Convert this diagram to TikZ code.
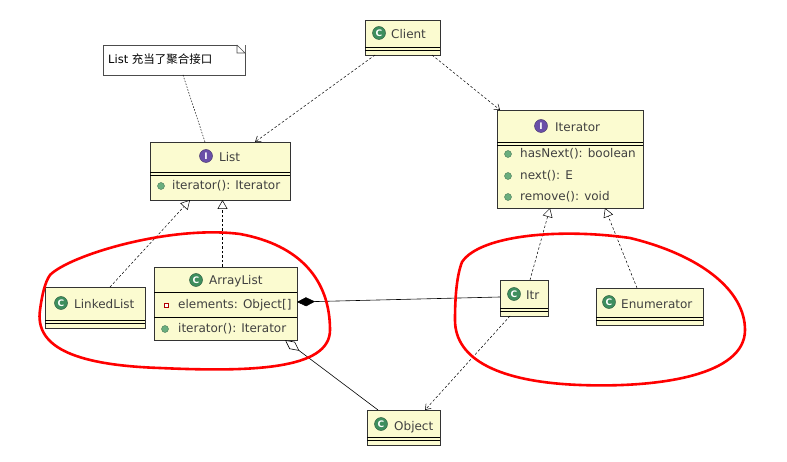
\documentclass[tikz,border=0pt]{standalone}
\usepackage{fontspec}
\setmainfont{DejaVu Sans}
\newfontfamily\cjk{Noto Sans CJK SC}
\usetikzlibrary{arrows.meta,calc}
\definecolor{boxfill}{HTML}{FBFBD0}
\definecolor{icg}{HTML}{3E8E5E}
\definecolor{ici}{HTML}{6A4FA8}
\definecolor{dotg}{HTML}{6AAE7E}
\tikzset{
 cls/.style={draw=black!80,fill=boxfill,line width=0.8pt,anchor=north west,inner sep=0},
 lbl/.style={font=\fontsize{12}{14}\selectfont,text=black!75,anchor=west,inner sep=0},
 icon/.style={circle,fill=#1,draw=#1!60!black,minimum size=13pt,inner sep=0,font=\fontsize{9}{9}\bfseries\selectfont,text=white},
 dep/.style={dash pattern=on 2.5pt off 2pt,line width=0.5pt,-{Straight Barb[length=5pt,width=7pt]}},
 real/.style={dash pattern=on 2.5pt off 2pt,line width=0.5pt,-{Triangle[open,length=9pt,width=10pt,fill=white]}},
 mdot/.style={circle,fill=dotg,draw=dotg!70!black,minimum size=7pt,inner sep=0},
 redc/.style={draw=red,line width=2.6pt,line cap=round}
}
\newcommand{\dbl}[3]{\draw[line width=0.6pt] (#1,#3) -- (#2,#3); \draw[line width=0.6pt] (#1,#3+3) -- (#2,#3+3);}
\begin{document}
\begin{tikzpicture}[x=1pt,y=-1pt]
\useasboundingbox (0,0) rectangle (787,462);
% note
\node[draw=black!70,fill=white,line width=0.6pt,minimum width=142pt,minimum height=30pt,anchor=north west,inner sep=0] (note) at (103,45) {};
\fill[white] (237,45) -- (245,45) -- (245,53) -- cycle;
\draw[line width=0.6pt,black!70] (237,45) -- (245,53) (237,45) -- (237,53) -- (245,53);
\node[lbl,font=\fontsize{11.5}{13}\selectfont,text=black] (notet) at (108,59) {List {\cjk 充当了聚合接口}};
% Client
\node[cls,minimum width=75pt,minimum height=35pt] (client) at (365,20) {};
\node[icon=icg] (ic1) at (379,33) {C};
\node[lbl] (t1) at (391,34) {Client};
\dbl{365}{440}{47}
% List
\node[cls,minimum width=140pt,minimum height=58pt] (list) at (150,142) {};
\node[icon=ici] (ic2) at (206,156) {I};
\node[lbl] (t2) at (219,157) {List};
\dbl{150}{290}{172}
\node[mdot] (d1) at (161,186) {};
\node[lbl] (t3) at (172,186) {iterator(): Iterator};
% Iterator
\node[cls,minimum width=146pt,minimum height=98pt] (iter) at (497,110) {};
\node[icon=ici] (ic3) at (541,126) {I};
\node[lbl] (t4) at (555,127) {Iterator};
\dbl{497}{643}{142}
\node[mdot] (d2) at (508,154) {}; \node[lbl] (t5) at (520,154) {hasNext(): boolean};
\node[mdot] (d3) at (508,176) {}; \node[lbl] (t6) at (520,176) {next(): E};
\node[mdot] (d4) at (508,197) {}; \node[lbl] (t7) at (520,197) {remove(): void};
% LinkedList
\node[cls,minimum width=100pt,minimum height=41pt] (linked) at (45,287) {};
\node[icon=icg] (ic4) at (61,303) {C};
\node[lbl] (t8) at (74,304) {LinkedList};
\dbl{45}{145}{320}
% ArrayList
\node[cls,minimum width=143pt,minimum height=73pt] (array) at (154,267) {};
\node[icon=icg] (ic5) at (196,280) {C};
\node[lbl] (t9) at (209,281) {ArrayList};
\draw[line width=0.6pt] (154,292) -- (297,292);
\node[draw=red!70!black,fill=white,minimum size=4pt,inner sep=0,line width=0.5pt] (sq) at (166,305) {};
\node[lbl] (t10) at (178,305) {elements: Object[]};
\draw[line width=0.6pt] (154,317) -- (297,317);
\node[mdot] (d5) at (165,329) {};
\node[lbl] (t11) at (178,329) {iterator(): Iterator};
% Itr
\node[cls,minimum width=48pt,minimum height=36pt] (itr) at (500,280) {};
\node[icon=icg] (ic6) at (514,294) {C};
\node[lbl] (t12) at (526,295) {Itr};
\dbl{500}{548}{308}
% Enumerator
\node[cls,minimum width=107pt,minimum height=37pt] (enum) at (596,288) {};
\node[icon=icg] (ic7) at (609,302) {C};
\node[lbl] (t13) at (621,304) {Enumerator};
\dbl{596}{703}{317}
% Object
\node[cls,minimum width=73pt,minimum height=35pt] (obj) at (367,410) {};
\node[icon=icg] (ic8) at (381,424) {C};
\node[lbl] (t14) at (394,427) {Object};
\dbl{367}{440}{437}
% connector end points
\coordinate (nb) at (183,75);   \coordinate (lt) at (205,142);
\coordinate (cl) at (375,55);   \coordinate (ltr) at (255,142);
\coordinate (cr) at (432,55);   \coordinate (itl) at (500,110);
\coordinate (lk) at (110,287);  \coordinate (lb1) at (190,200);
\coordinate (at) at (222.5,267);  \coordinate (lb2) at (222.5,200);
\coordinate (it) at (530,280);  \coordinate (ib1) at (550,208);
\coordinate (et) at (637,288);  \coordinate (ib2) at (605,208);
\coordinate (il) at (500,297);  \coordinate (ar) at (297,302);
\coordinate (ob1) at (378,410); \coordinate (ab) at (285,340);
\coordinate (ib) at (510,316);  \coordinate (ob2) at (425,410);
\draw[dash pattern=on 1.5pt off 1.5pt,line width=0.5pt] (nb) -- (lt);
\draw[dep] (cl) -- (ltr);
\draw[dep] (cr) -- (itl);
\draw[real] (lk) -- (lb1);
\draw[real] (at) -- (lb2);
\draw[real] (it) -- (ib1);
\draw[real] (et) -- (ib2);
\draw[line width=0.6pt,-{Diamond[length=18pt,width=9pt]}] (il) -- (ar);
\draw[line width=0.6pt,-{Diamond[open,length=18pt,width=9pt,fill=white]}] (ob1) -- (ab);
\draw[dep] (ib) -- (ob2);
% red circles
\draw[redc] (50,275) .. controls (70,255) and (170,225) .. (240,234)
 .. controls (300,245) and (330,280) .. (330,330)
 .. controls (330,370) and (250,372) .. (160,368)
 .. controls (70,365) and (35,345) .. (40,310)
 .. controls (42,295) and (45,282) .. (50,275);
\draw[redc] (462,262) .. controls (480,235) and (560,228) .. (630,238)
 .. controls (700,255) and (745,290) .. (745,330)
 .. controls (745,375) and (660,388) .. (580,385)
 .. controls (500,382) and (455,360) .. (455,320)
 .. controls (455,295) and (457,275) .. (462,262);
\end{tikzpicture}
\end{document}
